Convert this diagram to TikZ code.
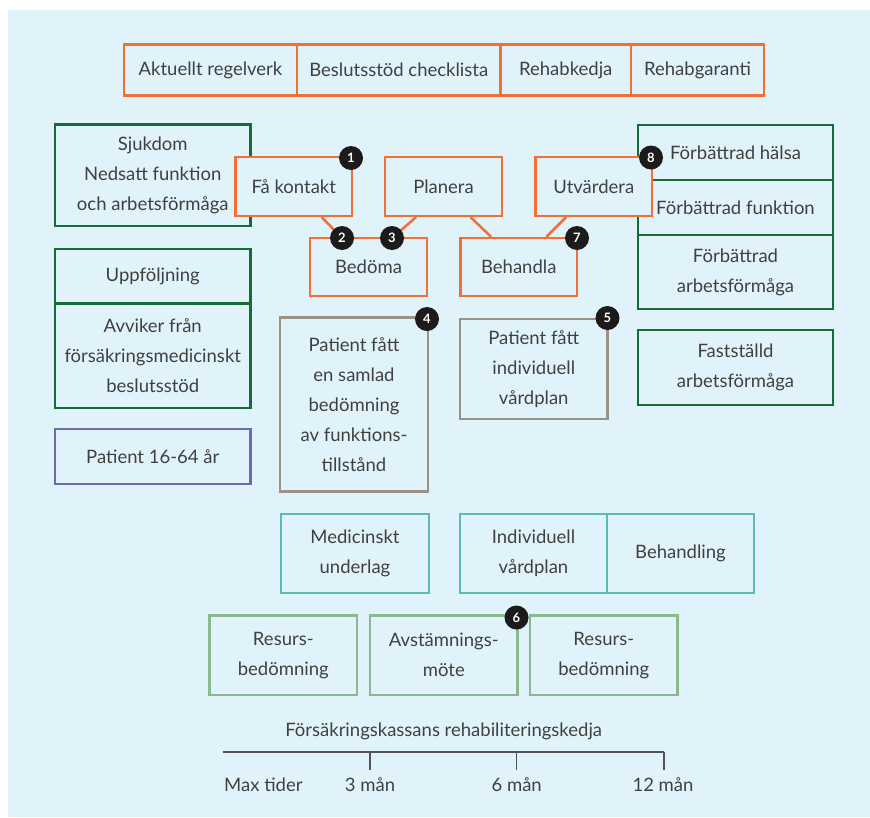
\documentclass[tikz,border=0pt]{standalone}
\usepackage{fontspec}
\setmainfont{Lato}
\usetikzlibrary{calc}
\definecolor{bgc}{HTML}{E1F3FA}
\definecolor{orng}{HTML}{F26F35}
\definecolor{dgrn}{HTML}{176B37}
\definecolor{gryb}{HTML}{9B9185}
\definecolor{purp}{HTML}{6B6BAF}
\definecolor{teal}{HTML}{5DBBB5}
\definecolor{lgrn}{HTML}{89B98D}
\definecolor{txt}{HTML}{404040}
\definecolor{badgec}{HTML}{1C1A1B}
\begin{document}
\begin{tikzpicture}[x=1pt,y=-1pt,
  every node/.style={text=txt,font=\fontsize{18.5}{30}\selectfont,align=center,inner sep=0pt},
  wh/.style 2 args={minimum width=#1pt,minimum height=#2pt},
  bx/.style={draw=#1,line width=2.5pt,fill=bgc,rectangle},
  obox/.style={bx=orng},
  gbox/.style={bx=dgrn},
  rbox/.style={bx=gryb},
  pbox/.style={bx=purp},
  tbox/.style={bx=teal},
  lbox/.style={bx=lgrn},
  badge/.style={circle,fill=badgec,text=white,minimum size=24pt,inner sep=0pt,font=\bfseries\fontsize{13}{13}\selectfont},
  conn/.style={draw=orng,line width=2.5pt},
  tl/.style={draw=txt!90,line width=1.5pt}
]
\useasboundingbox (0,0) rectangle (870,817);
\fill[bgc] (8,10) rectangle (870,817);

% top row
\node[obox,wh={173}{51}] (t1) at (210.5,70) {Aktuellt regelverk};
\node[obox,wh={203.5}{51}] (t2) at (398.75,70) {Beslutsstöd checklista};
\node[obox,wh={130.5}{51}] (t3) at (565.75,70) {Rehabkedja};
\node[obox,wh={133}{51}] (t4) at (697.5,70) {Rehabgaranti};

% left column
\node[gbox,wh={195.5}{101.5}] (sj) at (152.75,175) {Sjukdom\\Nedsatt funktion\\och arbetsförmåga};
\node[gbox,wh={195.5}{54}] (up) at (152.75,276) {Uppföljning};
\node[gbox,wh={195.5}{104.7}] (av) at (152.75,355.7) {Avviker från\\försäkringsmedicinskt\\beslutsstöd};
\node[pbox,wh={195.5}{55}] (pa) at (152.75,456.5) {Patient 16-64 år};

% right column
\node[gbox,wh={195}{55}] (fh) at (735.5,152.5) {Förbättrad hälsa};
\node[gbox,wh={195}{55}] (ff) at (735.5,207.5) {Förbättrad funktion};
\node[gbox,wh={195}{74}] (fa) at (735.5,272) {Förbättrad\\arbetsförmåga};
\node[gbox,wh={195}{75}] (fs) at (735.5,367.5) {Fastställd\\arbetsförmåga};

% badge positions
\coordinate (p2) at (342,238);
\coordinate (p3) at (392,238);

% process boxes
\node[obox,wh={116.5}{58.7}] (fk) at (293.75,186.5) {Få kontakt};
\node[obox,wh={117}{58.7}] (pl) at (443.5,186.5) {Planera};
\node[obox,wh={116.5}{58.7}] (ut) at (593.75,186.5) {Utvärdera};
\node[obox,wh={117}{58}] (bd) at (368.5,267) {Bedöma};
\node[obox,wh={116.5}{58}] (bh) at (518.75,267) {Behandla};

% connectors
\draw[conn] ($(fk.south west)!0.734!(fk.south east)$) -- (p2);
\draw[conn] ($(pl.south west)!0.271!(pl.south east)$) -- (p3);
\draw[conn] ($(pl.south west)!0.726!(pl.south east)$) -- ($(bh.north west)!0.267!(bh.north east)$);
\draw[conn] ($(ut.south west)!0.268!(ut.south east)$) -- ($(bh.north west)!0.733!(bh.north east)$);

% grey boxes
\node[rbox,wh={148}{174}] (ps) at (354,404.7) {Patient fått\\en samlad\\bedömning\\av funktions-\\tillstånd};
\node[rbox,wh={147.5}{100}] (pi) at (533.75,369) {Patient fått\\individuell\\vårdplan};

% teal boxes
\node[tbox,wh={148}{79}] (mu) at (355,553.5) {Medicinskt\\underlag};
\node[tbox,wh={147}{79}] (iv) at (533.5,553.5) {Individuell\\vårdplan};
\node[tbox,wh={147}{79}] (bl) at (680.5,553.5) {Behandling};

% light green boxes
\node[lbox,wh={147.4}{79.3}] (r1) at (283.3,655.3) {Resurs-\\bedömning};
\node[lbox,wh={147.6}{79.3}] (am) at (443.8,655.3) {Avstämnings-\\möte};
\node[lbox,wh={147.6}{79.3}] (r2) at (603.8,655.3) {Resurs-\\bedömning};

% badges
\node[badge] (b1) at (351,158) {1};
\node[badge] (b2) at (p2) {2};
\node[badge] (b3) at (p3) {3};
\node[badge] (b4) at (427,319) {4};
\node[badge] (b5) at (607.5,318) {5};
\node[badge] (b6) at (516.5,617.5) {6};
\node[badge] (b7) at (577,238) {7};
\node[badge] (b8) at (651,157.5) {8};

% timeline
\node (tt) at (443.7,731.7) {Försäkringskassans rehabiliteringskedja};
\coordinate (t0) at (222.7,752);
\coordinate (t3) at (370,752);
\coordinate (t6) at (516.7,752);
\coordinate (t12) at (664,752);
\draw[tl] (t0) -- (t12);
\draw[tl] (t3) -- ++(0,18);
\draw[tl] (t6) -- ++(0,18);
\draw[tl] (t12) -- ++(0,18);
\node[anchor=west] (l0) at (224,785) {Max tider};
\node (l3) at (370,785) {3 mån};
\node (l6) at (516.7,785) {6 mån};
\node (l12) at (663,785) {12 mån};
\end{tikzpicture}
\end{document}
